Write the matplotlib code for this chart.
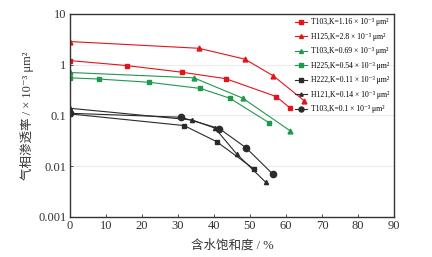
import matplotlib.pyplot as plt
from matplotlib.ticker import FixedLocator, NullLocator, FuncFormatter

plt.rcParams['font.family'] = ['Liberation Serif', 'DejaVu Serif', 'Noto Sans CJK SC']

# Data (water saturation %, gas permeability 10^-3 um^2)
labels = [
    'T103,K=1.16 × 10⁻³ μm²',
    'H125,K=2.8 × 10⁻³ μm²',
    'T103,K=0.69 × 10⁻³ μm²',
    'H225,K=0.54 × 10⁻³ μm²',
    'H222,K=0.11 × 10⁻³ μm²',
    'H121,K=0.14 × 10⁻³ μm²',
    'T103,K=0.1 × 10⁻³ μm²',
]

t103_a_x = [0, 15.7, 31, 43.2, 57.3, 61.1]
t103_a_y = [1.2, 0.96, 0.71, 0.53, 0.235, 0.14]

h125_x = [0, 35.8, 48.6, 56.5, 65]
h125_y = [2.85, 2.1, 1.28, 0.6, 0.196]

t103_b_x = [0, 34.4, 48, 61.1]
t103_b_y = [0.70, 0.55, 0.218, 0.05]

h225_x = [0, 8, 21.9, 36.2, 44.4, 55.4]
h225_y = [0.55, 0.52, 0.45, 0.34, 0.218, 0.071]

h222_x = [0, 31.7, 40.7, 51.1]
h222_y = [0.107, 0.063, 0.0305, 0.0088]

h121_x = [0, 34, 40.3, 46.3, 54.4]
h121_y = [0.138, 0.081, 0.056, 0.0174, 0.0048]

t103_c_x = [0, 30.8, 41.5, 48.9, 56.4]
t103_c_y = [0.11, 0.092, 0.055, 0.023, 0.0069]

series = [
    (t103_a_x, t103_a_y, '#e3141b', 's', 3.5),
    (h125_x, h125_y, '#e3141b', '^', 3.5),
    (t103_b_x, t103_b_y, '#1e9a4c', '^', 3.5),
    (h225_x, h225_y, '#1e9a4c', 's', 3.5),
    (h222_x, h222_y, '#2b2b2b', 's', 3.5),
    (h121_x, h121_y, '#2b2b2b', '^', 3),
    (t103_c_x, t103_c_y, '#2b2b2b', 'o', 4.5),
]

fig = plt.figure(figsize=(4.32, 2.57), dpi=100)
ax = fig.add_axes([0.162, 0.156, 0.750, 0.790])

for (xs, ys, c, m, ms), lab in zip(series, labels):
    ax.plot(xs, ys, color=c, marker=m, markersize=ms, linewidth=0.8, label=lab)

ax.set_yscale('log')
ax.set_ylim(0.001, 10)
ax.set_xlim(0, 90)
ax.set_xticks(range(0, 91, 10))
ax.yaxis.set_major_locator(FixedLocator([0.001, 0.01, 0.1, 1, 10]))
ax.yaxis.set_minor_locator(NullLocator())
ax.yaxis.set_major_formatter(FuncFormatter(lambda v, p: '%g' % v))
ax.tick_params(labelsize=9, length=2, width=0.6, direction='in', colors='#333333', labelcolor='#333333', pad=2.5)
ax.grid(axis='y', color='#e6e6e6', linewidth=0.6)
for s in ax.spines.values():
    s.set_color('#333333')
    s.set_linewidth(1.0)

ax.set_xlabel('含水饱和度 / %', fontsize=9, color='#333333', labelpad=5)
ax.set_ylabel('气相渗透率 / × 10⁻³ μm²', fontsize=9, color='#333333', labelpad=3)

leg = ax.legend(loc='upper right', fontsize=5.5, frameon=False, handlelength=1.6,
                labelspacing=0.85, borderaxespad=0.2, handletextpad=0.5, markerscale=0.8)

plt.savefig('out.png', dpi=100)
